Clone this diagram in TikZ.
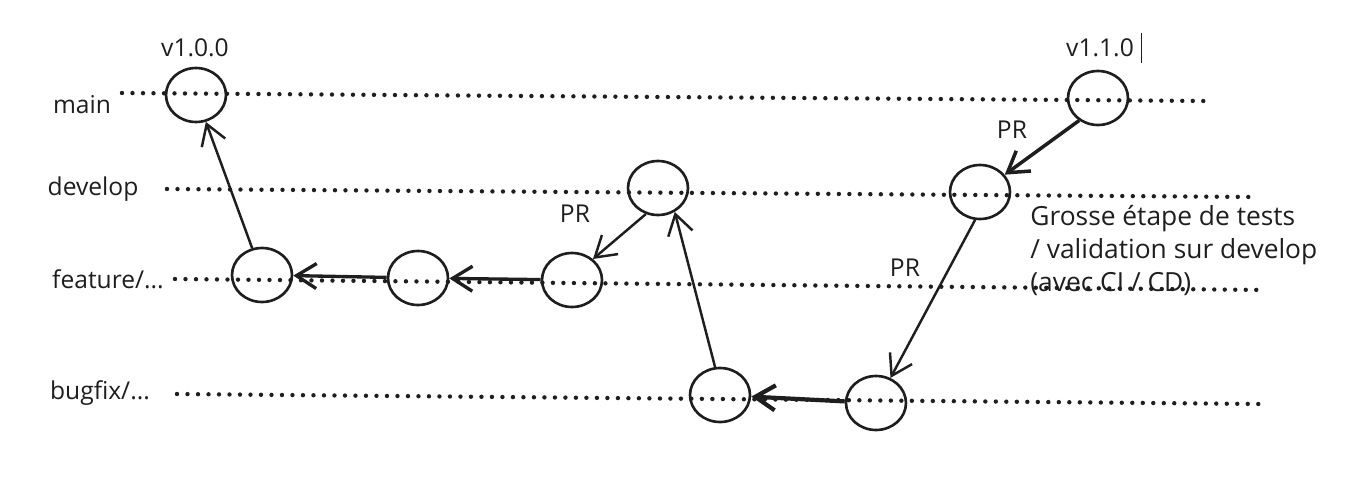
\documentclass[tikz,border=0pt]{standalone}
\usepackage{fontspec}
\setmainfont{Open Sans}
\usetikzlibrary{shapes.geometric,arrows.meta}
\definecolor{trazo}{HTML}{1E1E1E}
\tikzset{
  commit/.style={ellipse, draw=trazo, line width=1.5pt, minimum width=1.2cm, minimum height=1.08cm, inner sep=0pt},
  rama/.style={draw=trazo, line width=2.5pt, line cap=round, dash pattern=on 0pt off 0.21cm},
  flecha/.style={-{Straight Barb[length=0.4cm,width=0.5cm]}, draw=trazo, line width=1.4pt},
  etiqueta/.style={font=\fontsize{14}{16}\selectfont, text=trazo},
}
\begin{document}
\begin{tikzpicture}[x=0.02cm, y=-0.02cm]
    \useasboundingbox (0,0) rectangle (1347,477);

    % Extremos de las lineas punteadas de cada rama
    \coordinate (mainA) at (122,93);
    \coordinate (mainB) at (1208,101);
    \coordinate (devA) at (167,189);
    \coordinate (devB) at (1253,197);
    \coordinate (featA) at (175,279);
    \coordinate (featB) at (1265,290);
    \coordinate (bugA) at (177,394);
    \coordinate (bugB) at (1260,404);

    % Lineas punteadas de las ramas
    \draw[rama] (mainA) -- (mainB);
    \draw[rama] (devA) -- (devB);
    \draw[rama] (featA) -- (featB);
    \draw[rama] (bugA) -- (bugB);

    % Nombres de las ramas
    \node[etiqueta] (lmain) at (82,105) {main};
    \node[etiqueta] (ldev) at (93,189) {develop};
    \node[etiqueta] (lfeat) at (108,279) {feature/...};
    \node[etiqueta] (lbug) at (100,393) {bugfix/...};

    % Commits (circulos)
    \node[commit] (main1) at (196,95) {};
    \node[commit] (main2) at (1098,98) {};
    \node[commit] (dev1) at (658,188) {};
    \node[commit] (dev2) at (980,192) {};
    \node[commit] (feat1) at (262,275) {};
    \node[commit] (feat2) at (418,278) {};
    \node[commit] (feat3) at (572,280) {};
    \node[commit] (bug1) at (720,395) {};
    \node[commit] (bug2) at (876,403) {};

    % Versiones
    \node[etiqueta] (v100) at (195,48) {v1.0.0};
    \node[etiqueta] (v110) at (1100,48) {v1.1.0};
    \draw[trazo, line width=0.8pt] ([xshift=1pt]v110.north east) -- ([xshift=1pt]v110.south east);

    % Flechas entre commits
    \draw[flecha] (feat1) -- (main1);
    \draw[flecha, line width=1.9pt] (feat2) -- (feat1);
    \draw[flecha, line width=1.9pt] (feat3) -- (feat2);
    \draw[flecha] (dev1.245) -- (feat3.45);
    \draw[flecha] (bug1.100) -- (dev1.305);
    \draw[flecha, line width=2pt] (main2.230) -- (dev2.35);
    \draw[flecha] (dev2.260) -- (bug2.60);
    \draw[flecha, line width=2.4pt] (bug2) -- (bug1);

    % Etiquetas PR
    \node[etiqueta] (pr1) at (575,214) {PR};
    \node[etiqueta] (pr2) at (1012,130) {PR};
    \node[etiqueta] (pr3) at (905,268) {PR};

    % Nota sobre la etapa de tests
    \node[etiqueta, font=\fontsize{15}{18.7}\selectfont, align=left, anchor=north west, inner sep=0pt] (nota) at (1030,205)
        {Grosse étape de tests\\/ validation sur develop\\(avec CI / CD)};

\end{tikzpicture}
\end{document}
